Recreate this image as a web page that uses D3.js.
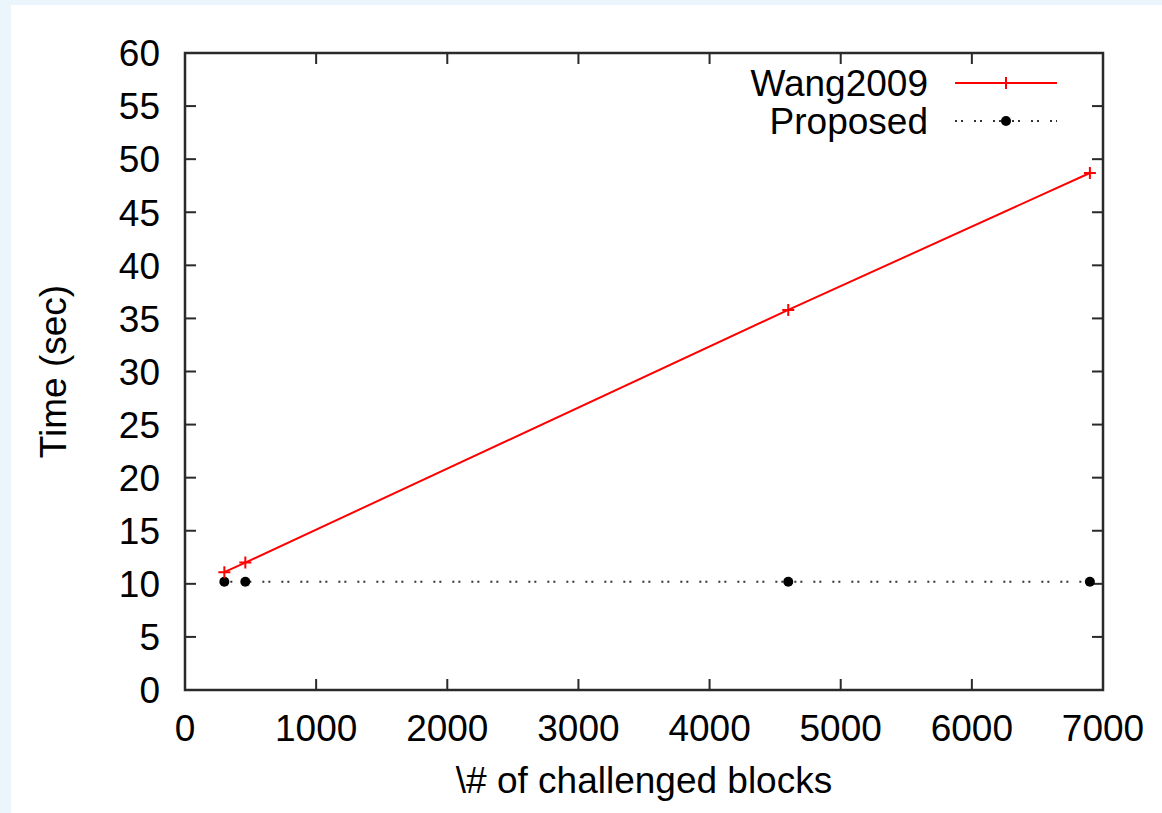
<!DOCTYPE html>
<html>
<head>
<meta charset="utf-8">
<script src="https://cdn.jsdelivr.net/npm/d3@7"></script>
<style>
  html, body { margin: 0; padding: 0; background: #ebf5fc; }
  svg { display: block; }
  text { font-family: "Liberation Sans", Arial, sans-serif; fill: #000; }
</style>
</head>
<body>
<svg width="1162" height="813"></svg>
<script>
// data
const blocks = [300, 460, 4600, 6900];
const wang2009 = [11.1, 12.0, 35.8, 48.7];
const proposed = [10.2, 10.2, 10.2, 10.2];
const xTicks = [0, 1000, 2000, 3000, 4000, 5000, 6000, 7000];
const yTicks = [0, 5, 10, 15, 20, 25, 30, 35, 40, 45, 50, 55, 60];

const svg = d3.select('svg');

// white panel on the light blue page
svg.append('rect')
  .attr('x', 11).attr('y', 5)
  .attr('width', 1151).attr('height', 808)
  .attr('fill', '#fff');

const plotLeft = 185, plotRight = 1103, plotTop = 53, plotBottom = 690;

const x = d3.scaleLinear().domain([0, 7000]).range([plotLeft, plotRight]);
const y = d3.scaleLinear().domain([0, 60]).range([plotBottom, plotTop]);

const tick = 11;
const frameColor = '#2a2a2a';

// inward ticks on all four sides
const ticks = svg.append('g').attr('stroke', frameColor).attr('stroke-width', 2);
yTicks.forEach(t => {
  ticks.append('line').attr('x1', plotLeft).attr('x2', plotLeft + tick).attr('y1', y(t)).attr('y2', y(t));
  ticks.append('line').attr('x1', plotRight).attr('x2', plotRight - tick).attr('y1', y(t)).attr('y2', y(t));
});
xTicks.forEach(t => {
  ticks.append('line').attr('x1', x(t)).attr('x2', x(t)).attr('y1', plotBottom).attr('y2', plotBottom - tick);
  ticks.append('line').attr('x1', x(t)).attr('x2', x(t)).attr('y1', plotTop).attr('y2', plotTop + tick);
});

// tick labels
svg.append('g').selectAll('text')
  .data(yTicks)
  .join('text')
  .attr('x', 160)
  .attr('y', d => y(d))
  .attr('dy', '0.36em')
  .attr('text-anchor', 'end')
  .attr('font-size', 37)
  .text(d => d);

svg.append('g').selectAll('text')
  .data(xTicks)
  .join('text')
  .attr('x', d => x(d))
  .attr('y', 741)
  .attr('text-anchor', 'middle')
  .attr('font-size', 37)
  .text(d => d);

// axis titles
svg.append('text')
  .attr('transform', `translate(66, ${(plotTop + plotBottom) / 2}) rotate(-90)`)
  .attr('text-anchor', 'middle')
  .attr('font-size', 37)
  .text('Time (sec)');

svg.append('text')
  .attr('x', (plotLeft + plotRight) / 2)
  .attr('y', 793)
  .attr('text-anchor', 'middle')
  .attr('font-size', 37)
  .text('\\# of challenged blocks');

// series
const wangPts = blocks.map((b, i) => [b, wang2009[i]]);
const propPts = blocks.map((b, i) => [b, proposed[i]]);
const line = d3.line().x(d => x(d[0])).y(d => y(d[1]));

const dotted = '2,4,2,11';

svg.append('path')
  .attr('d', line(propPts))
  .attr('fill', 'none')
  .attr('stroke', '#333')
  .attr('stroke-width', 2)
  .attr('stroke-dasharray', dotted);

svg.append('g').selectAll('circle')
  .data(propPts)
  .join('circle')
  .attr('cx', d => x(d[0]))
  .attr('cy', d => y(d[1]))
  .attr('r', 5)
  .attr('fill', '#000');

svg.append('path')
  .attr('d', line(wangPts))
  .attr('fill', 'none')
  .attr('stroke', '#ff0000')
  .attr('stroke-width', 2);

const plus = (g, cx, cy) => {
  g.append('path')
    .attr('d', `M${cx - 6},${cy}H${cx + 6}M${cx},${cy - 6}V${cy + 6}`)
    .attr('stroke', '#ff0000')
    .attr('stroke-width', 2);
};
const wangMarks = svg.append('g');
wangPts.forEach(d => plus(wangMarks, x(d[0]), y(d[1])));

// frame
svg.append('rect')
  .attr('x', plotLeft).attr('y', plotTop)
  .attr('width', plotRight - plotLeft).attr('height', plotBottom - plotTop)
  .attr('fill', 'none')
  .attr('stroke', frameColor)
  .attr('stroke-width', 2.5);

// legend
const legend = svg.append('g');
legend.append('text')
  .attr('x', 928).attr('y', 83).attr('dy', '0.36em')
  .attr('text-anchor', 'end').attr('font-size', 37)
  .text('Wang2009');
legend.append('line')
  .attr('x1', 955).attr('x2', 1057).attr('y1', 83).attr('y2', 83)
  .attr('stroke', '#ff0000').attr('stroke-width', 2);
plus(legend, 1006, 83);

legend.append('text')
  .attr('x', 928).attr('y', 121).attr('dy', '0.36em')
  .attr('text-anchor', 'end').attr('font-size', 37)
  .text('Proposed');
legend.append('line')
  .attr('x1', 955).attr('x2', 1057).attr('y1', 121).attr('y2', 121)
  .attr('stroke', '#333').attr('stroke-width', 2)
  .attr('stroke-dasharray', dotted);
legend.append('circle')
  .attr('cx', 1006).attr('cy', 121).attr('r', 5).attr('fill', '#000');
</script>
</body>
</html>
